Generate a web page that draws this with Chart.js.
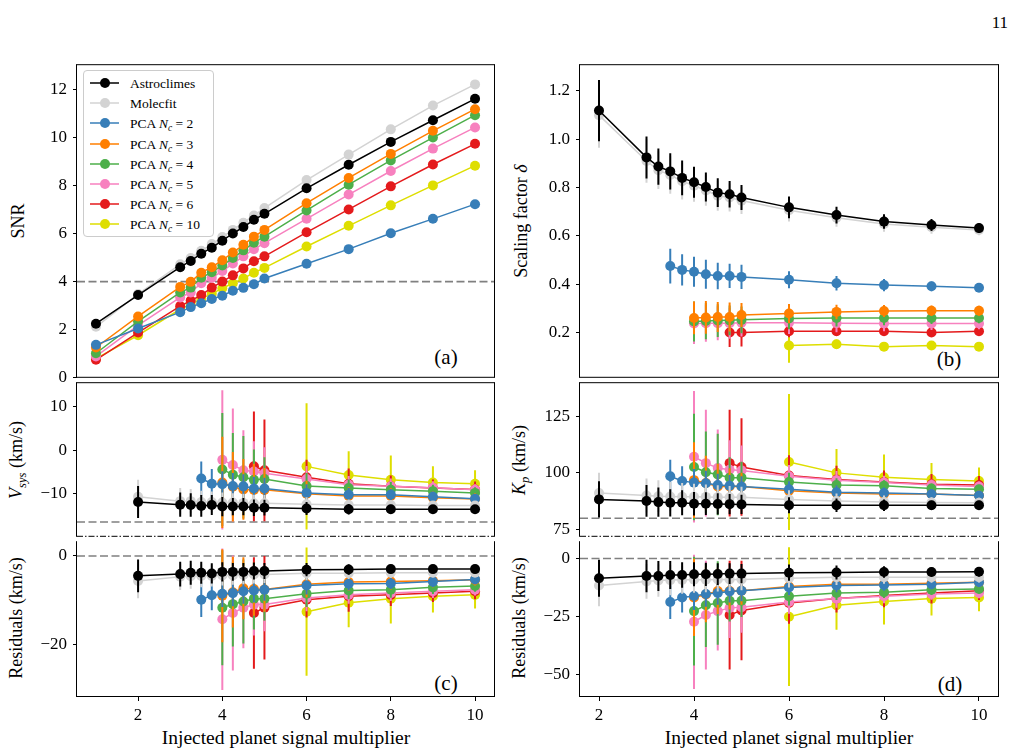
<!DOCTYPE html>
<html>
<head>
<meta charset="utf-8">
<title>Injection tests</title>
<script src="https://cdn.jsdelivr.net/npm/chart.js"></script>
<style>
    body { margin: 0; background: #fff; font-family: 'Liberation Serif', 'DejaVu Serif', serif; }
    #page { position: relative; width: 1013px; height: 755px; overflow: hidden; }
    canvas { position: absolute; }
    .txt { position: absolute; white-space: nowrap; color: #000; line-height: 1; }
    .ylab { font-size: 18px; transform: translate(-50%, -50%) rotate(-90deg); }
    .xlab { font-size: 19.5px; transform: translate(-50%, -50%); }
    .letter { font-size: 21px; transform: translate(-50%, -50%); }
    sub { font-size: 70%; vertical-align: -0.3em; line-height: 0; }
    #legend { position: absolute; left: 83px; top: 70px; width: 129px; height: 165px;
              border: 1px solid #cccccc; border-radius: 4px; background: rgba(255,255,255,0.8); }
    .row { position: absolute; left: 0; height: 20px; width: 129px; }
    .row svg { position: absolute; left: 5px; top: 0; }
    .row span { position: absolute; left: 46px; top: 3px; font-size: 13.5px; white-space: nowrap; }
</style>
</head>
<body>
<div id="page">
    <div class="txt" style="right:5px; top:14px; font-size:17px;">11</div>
    <div class="txt ylab" style="left:18px; top:221px;">SNR</div>
    <div class="txt ylab" style="left:521px; top:221px;">Scaling factor <i>δ</i></div>
    <div class="txt ylab" style="left:16px; top:460px;"><i>V<sub>sys</sub></i> (km/s)</div>
    <div class="txt ylab" style="left:16px; top:618px;">Residuals (km/s)</div>
    <div class="txt ylab" style="left:519px; top:460px;"><i>K<sub>p</sub></i> (km/s)</div>
    <div class="txt ylab" style="left:519px; top:618px;">Residuals (km/s)</div>
    <div class="txt xlab" style="left:286px; top:738px;">Injected planet signal multiplier</div>
    <div class="txt xlab" style="left:789px; top:738px;">Injected planet signal multiplier</div>
    <div class="txt letter" style="left:446px; top:357px;">(a)</div>
    <div class="txt letter" style="left:949px; top:359px;">(b)</div>
    <div class="txt letter" style="left:446px; top:683px;">(c)</div>
    <div class="txt letter" style="left:950px; top:684px;">(d)</div>
    <div id="legend"></div>
</div>

<script>
// series order: Astroclimes, Molecfit, PCA Nc=2, 3, 4, 5, 6, 10
var seriesLabels = ['Astroclimes', 'Molecfit', 'PCA N_c = 2', 'PCA N_c = 3', 'PCA N_c = 4',
                    'PCA N_c = 5', 'PCA N_c = 6', 'PCA N_c = 10'];
var seriesColors = ['#000000', '#d3d3d3', '#377eb8', '#ff7f00', '#4daf4a', '#f781bf', '#e41a1c', '#dede00'];

// injected multipliers
var xSnr = [1, 2, 3, 3.25, 3.5, 3.75, 4, 4.25, 4.5, 4.75, 5, 6, 7, 8, 9, 10];
var xFit = [2, 3, 3.25, 3.5, 3.75, 4, 4.25, 4.5, 4.75, 5, 6, 7, 8, 9, 10];

var snr = [
    [2.25, 3.44, 4.60, 4.86, 5.16, 5.41, 5.70, 6.00, 6.27, 6.57, 6.82, 7.88, 8.86, 9.81, 10.71, 11.60],
    [2.12, 3.48, 4.72, 4.98, 5.28, 5.56, 5.85, 6.15, 6.45, 6.75, 7.06, 8.22, 9.28, 10.33, 11.32, 12.20],
    [1.37, 2.05, 2.73, 2.94, 3.10, 3.28, 3.41, 3.62, 3.74, 3.89, 4.13, 4.74, 5.35, 6.01, 6.61, 7.22],
    [1.26, 2.55, 3.78, 3.99, 4.37, 4.60, 4.89, 5.21, 5.53, 5.87, 6.15, 7.26, 8.31, 9.31, 10.27, 11.17],
    [1.02, 2.35, 3.55, 3.75, 4.16, 4.39, 4.67, 4.98, 5.30, 5.62, 5.87, 6.96, 8.03, 9.04, 9.99, 10.92],
    [0.89, 2.18, 3.34, 3.55, 3.93, 4.16, 4.44, 4.75, 5.05, 5.35, 5.60, 6.61, 7.62, 8.60, 9.53, 10.41],
    [0.75, 1.88, 2.98, 3.21, 3.44, 3.75, 4.00, 4.26, 4.55, 4.85, 5.05, 6.05, 7.00, 7.96, 8.87, 9.73],
    [0.80, 1.77, 2.85, 3.05, 3.28, 3.50, 3.72, 3.93, 4.13, 4.37, 4.57, 5.46, 6.32, 7.17, 8.00, 8.82]
];

var delta = [
    [1.119, 0.925, 0.887, 0.867, 0.840, 0.822, 0.802, 0.779, 0.772, 0.759, 0.718, 0.686, 0.659, 0.645, 0.632],
    [1.100, 0.910, 0.872, 0.852, 0.826, 0.808, 0.788, 0.766, 0.759, 0.746, 0.706, 0.675, 0.649, 0.636, 0.624],
    [null, null, null, 0.475, 0.459, 0.451, 0.441, 0.434, 0.434, 0.430, 0.418, 0.404, 0.396, 0.391, 0.385],
    [null, null, null, null, null, 0.260, 0.262, 0.264, 0.264, 0.272, 0.278, 0.285, 0.289, 0.290, 0.290],
    [null, null, null, null, null, 0.245, 0.247, 0.249, 0.250, 0.252, 0.258, 0.260, 0.260, 0.260, 0.260],
    [null, null, null, null, null, 0.237, 0.238, 0.238, 0.238, 0.240, 0.240, 0.238, 0.237, 0.237, 0.237],
    [null, null, null, null, null, null, null, null, 0.200, 0.200, 0.205, 0.205, 0.205, 0.200, 0.205],
    [null, null, null, null, null, null, null, null, null, null, 0.146, 0.151, 0.141, 0.146, 0.141]
];
var deltaErr = [
    [0.127, 0.087, 0.075, 0.075, 0.072, 0.064, 0.060, 0.060, 0.055, 0.052, 0.045, 0.035, 0.030, 0.025, 0.020],
    [0.135, 0.090, 0.078, 0.078, 0.075, 0.067, 0.063, 0.062, 0.058, 0.055, 0.047, 0.037, 0.032, 0.027, 0.022],
    [null, null, null, 0.072, 0.065, 0.062, 0.060, 0.055, 0.050, 0.050, 0.035, 0.030, 0.025, 0.020, 0.015],
    [null, null, null, null, null, 0.068, 0.068, 0.062, 0.060, 0.050, 0.040, 0.030, 0.025, 0.022, 0.020],
    [null, null, null, null, null, 0.083, 0.075, 0.068, 0.062, 0.055, 0.045, 0.035, 0.030, 0.025, 0.022],
    [null, null, null, null, null, 0.085, 0.077, 0.070, 0.064, 0.057, 0.047, 0.037, 0.032, 0.027, 0.024],
    [null, null, null, null, null, null, null, null, 0.060, 0.058, 0.025, 0.020, 0.020, 0.018, 0.015],
    [null, null, null, null, null, null, null, null, null, null, 0.072, 0.020, 0.018, 0.015, 0.012]
];

var vsys = [
    [-11.9, -12.5, -12.6, -12.8, -12.6, -12.95, -12.95, -12.95, -13.2, -13.2, -13.4, -13.55, -13.55, -13.55, -13.55],
    [-10.7, -11.7, -11.7, -11.9, -11.9, -12.0, -12.0, -12.1, -12.2, -12.2, -12.4, -12.6, -12.6, -12.7, -12.7],
    [null, null, null, -6.5, -7.7, -7.8, -8.2, -8.3, -8.8, -8.8, -9.8, -10.2, -10.2, -10.7, -11.15],
    [null, null, null, null, null, -7.4, -8.4, -9.0, -9.1, -9.1, -10.0, -10.5, -10.5, -10.9, -11.2],
    [null, null, null, null, null, -4.4, -5.6, -6.2, -6.8, -6.6, -8.2, -8.7, -9.1, -9.4, -9.8],
    [null, null, null, null, null, -2.2, -3.4, -4.6, -4.9, -5.3, -6.6, -7.9, -8.3, -8.6, -9.1],
    [null, null, null, null, null, null, null, null, -3.7, -4.6, -6.2, -7.7, -8.3, -8.7, -9.0],
    [null, null, null, null, null, null, null, null, null, null, -3.7, -5.7, -6.8, -7.4, -7.7]
];
var vsysErr = [
    [3.7, 2.8, 2.7, 2.5, 2.3, 2.2, 2.0, 2.0, 1.9, 1.8, 1.5, 1.2, 1.0, 0.9, 0.8],
    [3.9, 3.0, 2.8, 2.6, 2.4, 2.3, 2.1, 2.1, 2.0, 1.9, 1.6, 1.3, 1.1, 1.0, 0.9],
    [null, null, null, 3.9, 3.4, 3.0, 3.0, 2.8, 2.7, 2.5, 2.0, 1.5, 1.3, 1.2, 1.0],
    [null, null, null, null, null, 10.5, 8.0, 7.0, 6.0, 5.0, 3.0, 2.0, 1.8, 1.5, 1.3],
    [null, null, null, null, null, 13.0, 9.6, 9.5, 7.0, 5.0, 3.0, 2.0, 1.8, 1.5, 1.3],
    [null, null, null, null, null, 16.0, 13.0, 9.2, 7.0, 6.0, 3.0, 2.0, 1.8, 1.5, 1.3],
    [null, null, null, null, null, null, null, null, 12.6, 11.7, 4.0, 3.5, 2.5, 2.0, 1.8],
    [null, null, null, null, null, null, null, null, null, null, 14.5, 5.5, 5.6, 3.7, 3.1]
];
var vsysRes = [
    [-4.5, -4.1, -3.8, -3.8, -3.95, -3.6, -3.6, -3.6, -3.4, -3.4, -3.1, -3.05, -2.97, -2.97, -2.97],
    [-5.65, -4.7, -4.6, -4.5, -4.5, -4.4, -4.4, -4.3, -4.2, -4.2, -3.9, -3.9, -3.8, -3.8, -3.8],
    [null, null, null, -9.9, -8.9, -8.55, -8.4, -8.0, -7.8, -7.65, -6.7, -6.3, -6.2, -5.8, -5.3],
    [null, null, null, null, null, -9.0, -8.2, -7.3, -7.5, -7.6, -6.4, -5.9, -5.8, -5.6, -5.4],
    [null, null, null, null, null, -11.7, -10.9, -10.3, -9.65, -9.65, -8.55, -7.8, -7.65, -7.1, -6.8],
    [null, null, null, null, null, -14.3, -12.9, -11.7, -11.0, -11.0, -9.5, -8.8, -8.4, -8.0, -7.65],
    [null, null, null, null, null, null, null, null, -12.9, -11.7, -9.9, -9.1, -8.8, -8.4, -8.0],
    [null, null, null, null, null, null, null, null, null, null, -12.6, -10.6, -9.65, -9.1, -8.8]
];

var kp = [
    [88.3, 87.6, 87.1, 86.8, 86.8, 86.4, 86.4, 86.3, 86.2, 86.1, 85.7, 85.7, 85.7, 85.7, 85.7],
    [91.1, 90.0, 89.7, 89.6, 89.5, 89.5, 89.4, 89.3, 89.2, 89.2, 88.3, 87.6, 87.2, 86.9, 86.8],
    [null, null, null, 98.5, 96.4, 95.7, 95.4, 94.6, 94.3, 94.0, 92.8, 91.4, 91.1, 90.7, 90.0],
    [null, null, null, null, null, 96.8, 95.5, 94.0, 94.0, 94.0, 92.1, 91.1, 90.7, 90.7, 90.0],
    [null, null, null, null, null, 102.6, 100.3, 99.3, 97.9, 97.9, 96.0, 94.6, 94.3, 93.1, 92.8],
    [null, null, null, null, null, 107.1, 104.3, 102.1, 101.4, 101.1, 98.5, 96.8, 95.7, 94.6, 94.0],
    [null, null, null, null, null, null, null, null, 104.3, 102.6, 98.8, 97.1, 96.0, 95.0, 94.6],
    [null, null, null, null, null, null, null, null, null, null, 104.8, 100.0, 98.1, 97.1, 96.4]
];
var kpErr = [
    [8.0, 7.0, 6.5, 6.0, 5.5, 5.2, 5.0, 4.7, 4.5, 4.2, 3.5, 3.0, 2.5, 2.0, 2.0],
    [9.0, 7.5, 7.0, 6.5, 6.0, 5.7, 5.5, 5.2, 5.0, 4.7, 4.0, 3.3, 2.8, 2.3, 2.2],
    [null, null, null, 7.3, 6.5, 6.0, 5.5, 5.0, 4.8, 4.5, 3.5, 3.0, 2.5, 2.2, 2.0],
    [null, null, null, null, null, 16.7, 12.0, 10.0, 8.0, 6.0, 4.0, 3.0, 2.5, 2.2, 2.0],
    [null, null, null, null, null, 23.5, 18.0, 18.0, 9.0, 7.0, 4.0, 3.0, 2.5, 2.2, 2.0],
    [null, null, null, null, null, 29.0, 23.5, 17.0, 13.0, 11.0, 5.0, 4.0, 3.0, 2.5, 2.2],
    [null, null, null, null, null, null, null, null, 23.5, 21.5, 9.0, 6.0, 5.0, 4.5, 4.0],
    [null, null, null, null, null, null, null, null, null, null, 30.0, 10.5, 10.0, 7.3, 6.0]
];
var kpRes = [
    [-8.5, -7.5, -7.5, -7.1, -7.1, -6.8, -6.8, -6.7, -6.5, -6.5, -6.1, -6.0, -5.8, -5.8, -5.7],
    [-11.6, -9.9, -9.5, -9.3, -9.2, -9.1, -9.1, -9.0, -9.0, -9.0, -8.5, -8.1, -8.1, -8.1, -8.1],
    [null, null, null, -18.8, -16.8, -16.2, -15.3, -14.9, -14.2, -13.9, -12.5, -11.6, -11.4, -11.1, -10.2],
    [null, null, null, null, null, -16.8, -15.5, -14.0, -14.0, -13.9, -12.1, -11.1, -11.1, -10.7, -10.2],
    [null, null, null, null, null, -22.7, -20.2, -19.2, -18.2, -18.2, -16.3, -14.9, -14.5, -13.5, -13.1],
    [null, null, null, null, null, -27.3, -24.4, -22.7, -21.3, -21.0, -18.8, -17.3, -16.3, -15.3, -14.9],
    [null, null, null, null, null, null, null, null, -24.4, -22.4, -19.2, -17.3, -16.0, -14.9, -13.9],
    [null, null, null, null, null, null, null, null, null, null, -25.1, -20.2, -18.5, -17.3, -16.8]
];

var snrLimit = 4;
var vsysTrue = -16.5;
var kpTrue = 80;

var snrTicks = [0, 2, 4, 6, 8, 10, 12];
var deltaTicks = [0.2, 0.4, 0.6, 0.8, 1.0, 1.2];
var vsysTicks = [-10, 0, 10];
var vsysResTicks = [-20, 0];
var kpTicks = [75, 100, 125];
var kpResTicks = [-50, -25, 0];
var xTicks = [2, 4, 6, 8, 10];

var page = document.getElementById('page');
var tickFont = { family: 'Liberation Serif', size: 17 };

// legend (line + marker, like matplotlib)
var legend = document.getElementById('legend');
seriesLabels.forEach(function (name, i) {
    var row = document.createElement('div');
    row.className = 'row';
    row.style.top = (2 + i * 20.2) + 'px';
    var html = name.replace('N_c', '<i>N<sub>c</sub></i>');
    row.innerHTML = '<svg width="34" height="20"><line x1="1" y1="10" x2="30" y2="10" stroke="' + seriesColors[i] +
        '" stroke-width="1.5"/><circle cx="16" cy="10" r="5" fill="' + seriesColors[i] + '"/></svg><span>' + html + '</span>';
    legend.appendChild(row);
});

// vertical error bars, drawn just under each dataset's own line/markers
var errorBars = {
    id: 'errorBars',
    beforeDatasetDraw: function (chart, args) {
        var ds = chart.data.datasets[args.index];
        var a = chart.chartArea, xs = chart.scales.x, ys = chart.scales.y, ctx = chart.ctx;
        ctx.save();
        ctx.beginPath();
        ctx.rect(a.left, a.top, a.right - a.left, a.bottom - a.top);
        ctx.clip();
        ctx.strokeStyle = ds.borderColor;
        ctx.lineWidth = 2;
        ds.data.forEach(function (p) {
            if (p.e == null) return;
            var x = xs.getPixelForValue(p.x);
            ctx.beginPath();
            ctx.moveTo(x, ys.getPixelForValue(p.y - p.e));
            ctx.lineTo(x, ys.getPixelForValue(p.y + p.e));
            ctx.stroke();
        });
        ctx.restore();
    }
};

// spines, dashed reference lines and the dash-dot break line
var frame = {
    id: 'frame',
    beforeDatasetsDraw: function (chart, args, opts) {
        var ctx = chart.ctx, a = chart.chartArea;
        ctx.save();
        ctx.strokeStyle = '#808080';
        ctx.lineWidth = 1.6;
        ctx.setLineDash([8, 3.5]);
        (opts.hlines || []).forEach(function (v) {
            var y = chart.scales.y.getPixelForValue(v);
            ctx.beginPath();
            ctx.moveTo(a.left, y);
            ctx.lineTo(a.right, y);
            ctx.stroke();
        });
        ctx.restore();
    },
    afterDatasetsDraw: function (chart, args, opts) {
        var ctx = chart.ctx, a = chart.chartArea;
        var l = a.left - 0.5, r = a.right + 0.5, t = a.top + 0.5, b = a.bottom - 0.5;
        ctx.save();
        ctx.strokeStyle = '#000';
        ctx.lineWidth = 1;
        ctx.beginPath();
        var s = opts.sides || 'tlrb';
        if (s.indexOf('t') >= 0) { ctx.moveTo(l, t); ctx.lineTo(r, t); }
        if (s.indexOf('l') >= 0) { ctx.moveTo(l, a.top); ctx.lineTo(l, a.bottom); }
        if (s.indexOf('r') >= 0) { ctx.moveTo(r, a.top); ctx.lineTo(r, a.bottom); }
        if (s.indexOf('b') >= 0) { ctx.moveTo(l, b); ctx.lineTo(r, b); }
        ctx.stroke();
        if (opts.breakLine) {
            ctx.setLineDash([6, 2, 1.5, 2]);
            ctx.beginPath();
            ctx.moveTo(a.left, b);
            ctx.lineTo(a.right, b);
            ctx.stroke();
        }
        ctx.restore();
    }
};

function fmtMinus(v) { return String(v).replace('-', '\u2212'); }

function makeDatasets(xs, rows, errs) {
    return rows.map(function (row, s) {
        var pts = [];
        xs.forEach(function (x, i) {
            if (row[i] === null) return;
            pts.push({ x: x, y: row[i], e: errs ? errs[s][i] : null });
        });
        return {
            label: seriesLabels[s],
            data: pts,
            borderColor: seriesColors[s],
            backgroundColor: seriesColors[s],
            borderWidth: 1.5,
            pointRadius: 5,
            pointHoverRadius: 5,
            pointBorderWidth: 0,
            tension: 0
        };
    });
}

function makePanel(box, p) {
    var W = 60, P = 14, H = p.xAxis ? 45 : 0;
    var c = document.createElement('canvas');
    c.width = (box.r - box.l) + W + 2 * P;
    c.height = (box.b - box.t) + 2 * P + H;
    c.style.left = (box.l - W - P) + 'px';
    c.style.top = (box.t - P) + 'px';
    page.appendChild(c);

    var xScale = {
        type: 'linear', min: p.xmin, max: p.xmax, display: !!p.xAxis,
        afterBuildTicks: function (s) { s.ticks = xTicks.map(function (v) { return { value: v }; }); },
        ticks: { font: tickFont, color: '#000', padding: 4, maxRotation: 0, autoSkip: false },
        grid: { drawOnChartArea: false, drawTicks: true, tickLength: 4, color: '#000' },
        border: { display: false }
    };
    if (p.xAxis) xScale.afterFit = function (s) { s.height = H; };

    new Chart(c, {
        type: 'line',
        data: { datasets: makeDatasets(p.xs, p.rows, p.errs) },
        options: {
            responsive: false,
            animation: false,
            devicePixelRatio: 1,
            layout: { padding: P },
            plugins: {
                legend: { display: false },
                tooltip: { enabled: false },
                frame: { sides: p.sides, hlines: p.hlines, breakLine: p.breakLine }
            },
            scales: {
                x: xScale,
                y: {
                    type: 'linear', min: p.ymin, max: p.ymax,
                    afterFit: function (s) { s.width = W; },
                    afterBuildTicks: function (s) { s.ticks = p.yTicks.map(function (v) { return { value: v }; }); },
                    ticks: { font: tickFont, color: '#000', padding: 6, autoSkip: false, callback: p.fmt || fmtMinus },
                    grid: { drawOnChartArea: false, drawTicks: true, tickLength: 4, color: '#000' },
                    border: { display: false }
                }
            }
        },
        plugins: [errorBars, frame]
    });
}

// (a) SNR
makePanel({ l: 77, t: 62, r: 494, b: 380 }, {
    xs: xSnr, rows: snr, errs: null, xmin: 0.55, xmax: 10.45, ymin: 0, ymax: 13.04,
    yTicks: snrTicks, sides: 'tlrb', hlines: [snrLimit]
});
// (b) scaling factor
makePanel({ l: 580, t: 62, r: 998, b: 380 }, {
    xs: xFit, rows: delta, errs: deltaErr, xmin: 1.6, xmax: 10.4, ymin: 0.012, ymax: 1.311,
    yTicks: deltaTicks, sides: 'tlrb', fmt: function (v) { return v.toFixed(1); }
});
// (c) Vsys and residuals
makePanel({ l: 77, t: 380, r: 494, b: 539 }, {
    xs: xFit, rows: vsys, errs: vsysErr, xmin: 0.55, xmax: 10.45, ymin: -19.9, ymax: 15.66,
    yTicks: vsysTicks, sides: 'tlr', hlines: [vsysTrue], breakLine: true
});
makePanel({ l: 77, t: 539, r: 494, b: 697 }, {
    xs: xFit, rows: vsysRes, errs: vsysErr, xmin: 0.55, xmax: 10.45, ymin: -31.9, ymax: 3.34,
    yTicks: vsysResTicks, sides: 'lrb', hlines: [0], xAxis: true
});
// (d) Kp and residuals
makePanel({ l: 580, t: 380, r: 998, b: 539 }, {
    xs: xFit, rows: kp, errs: kpErr, xmin: 1.6, xmax: 10.4, ymin: 71.8, ymax: 140.0,
    yTicks: kpTicks, sides: 'tlr', hlines: [kpTrue], breakLine: true
});
makePanel({ l: 580, t: 539, r: 998, b: 697 }, {
    xs: xFit, rows: kpRes, errs: kpErr, xmin: 1.6, xmax: 10.4, ymin: -59.8, ymax: 7.5,
    yTicks: kpResTicks, sides: 'lrb', hlines: [0], xAxis: true
});
</script>
</body>
</html>
